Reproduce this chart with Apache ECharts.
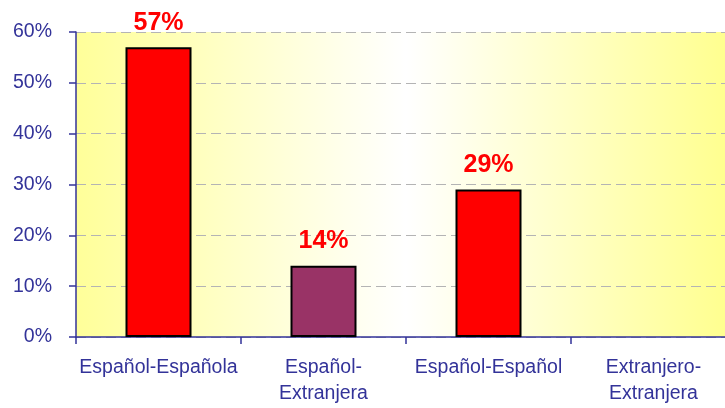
<!DOCTYPE html>
<html>
<head>
<meta charset="utf-8">
<script src="https://cdn.jsdelivr.net/npm/echarts@6/dist/echarts.min.js"></script>
<style>
  html, body { margin: 0; padding: 0; background: #ffffff; overflow: hidden; }
  #chart { width: 736px; height: 408px; }
</style>
</head>
<body>
<div id="chart"></div>
<script>
// Couple types and their share of the total
var categories = ['Español-Española', 'Español-\nExtranjera', 'Español-Español', 'Extranjero-\nExtranjera'];
var shares = [57, 14, 29, null];
var barColors = ['#FF0000', '#993366', '#FF0000', '#FF0000'];
var yTicks = { min: 0, max: 60, step: 10 };

var axisBlue = '#333399';
var textFont = '"Liberation Sans", Arial, sans-serif';

var chart = echarts.init(document.getElementById('chart'), null, { renderer: 'canvas' });

chart.setOption({
  animation: false,
  grid: {
    left: 76,
    top: 32,
    bottom: 71,
    right: 0,
    show: true,
    borderWidth: 0,
    backgroundColor: new echarts.graphic.LinearGradient(0, 0, 1, 0, [
      { offset: 0, color: '#FFFF99' },
      { offset: 0.5, color: '#FFFFFF' },
      { offset: 1, color: '#FFFF8C' }
    ])
  },
  xAxis: {
    type: 'category',
    data: categories,
    axisLine: { lineStyle: { color: axisBlue, width: 1.5 } },
    axisTick: { show: true, length: 7, lineStyle: { color: axisBlue, width: 1.5 } },
    axisLabel: {
      color: axisBlue,
      fontFamily: textFont,
      fontSize: 19.5,
      lineHeight: 26,
      margin: 18,
      interval: 0
    }
  },
  yAxis: {
    type: 'value',
    min: yTicks.min,
    max: yTicks.max,
    interval: yTicks.step,
    axisLine: { show: true, lineStyle: { color: axisBlue, width: 1.5 } },
    axisTick: { show: true, length: 7, lineStyle: { color: axisBlue, width: 1.5 } },
    axisLabel: {
      color: axisBlue,
      fontFamily: textFont,
      fontSize: 19.5,
      margin: 24,
      formatter: '{value}%'
    },
    splitLine: {
      show: true,
      lineStyle: { color: '#B4B4B4', type: [10, 5], width: 1.2 }
    }
  },
  series: [{
    type: 'bar',
    barWidth: '40%',
    data: shares.map(function (v, i) {
      return { value: v, itemStyle: { color: barColors[i] } };
    }),
    itemStyle: { borderColor: '#000000', borderWidth: 2 },
    label: {
      show: true,
      position: 'top',
      distance: 12,
      color: '#FF0000',
      fontFamily: textFont,
      fontWeight: 'bold',
      fontSize: 25,
      formatter: function (p) { return p.value == null ? '' : p.value + '%'; }
    }
  }]
});
</script>
</body>
</html>
